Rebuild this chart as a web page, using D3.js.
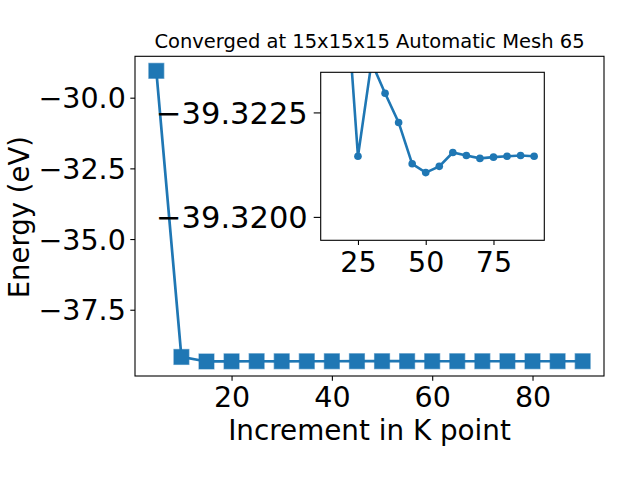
<!DOCTYPE html>
<html><head><meta charset="utf-8">
<script src="https://cdn.jsdelivr.net/npm/d3@7"></script>
<style>
html,body{margin:0;padding:0;background:#fff;}
svg{display:block;font-family:"DejaVu Sans",sans-serif;}
</style></head>
<body>
<svg id="chart" width="640" height="480"></svg>
<script>
// Data
const kpoints = [5,10,15,20,25,30,35,40,45,50,55,60,65,70,75,80,85,90];
const energies = [-29.05,-39.17,-39.330,-39.3260,-39.32145,-39.3237,-39.32296,-39.32226,-39.32127,-39.32106,-39.32121,-39.32154,-39.32147,-39.32140,-39.32143,-39.32145,-39.32147,-39.32145];
const mainXTicks = [20,40,60,80];
const mainYTicks = [-30,-32.5,-35,-37.5];
const insetXTicks = [25,50,75];
const insetYTicks = [-39.3225,-39.3200];
const insetYLim = [-39.31944,-39.32346];
const insetStart = 15;
const titleText = "Converged at 15x15x15 Automatic Mesh 65";
const xLabel = "Increment in K point";
const yLabel = "Energy (eV)";

const color = "#1f77b4";
const svg = d3.select("#chart");
const minus = s => s.replace(/-/g, "\u2212");

// Main axes box
const M = {l:135, r:604, t:56.3, b:376};
const data = kpoints.map((k,i)=>({k, e:energies[i]}));
const xExt = d3.extent(kpoints), xPad = (xExt[1]-xExt[0])*0.05;
const yExt = d3.extent(energies), yPad = (yExt[1]-yExt[0])*0.05;
const x = d3.scaleLinear().domain([xExt[0]-xPad, xExt[1]+xPad]).range([M.l, M.r]);
const y = d3.scaleLinear().domain([yExt[0]-yPad, yExt[1]+yPad]).range([M.b, M.t]);

const tickFont = 28.5;
// main axes
const gx = svg.append("g").attr("transform",`translate(0,${M.b})`)
  .call(d3.axisBottom(x).tickValues(mainXTicks).tickSize(4.7).tickPadding(5).tickFormat(d3.format("d")));
const gy = svg.append("g").attr("transform",`translate(${M.l},0)`)
  .call(d3.axisLeft(y).tickValues(mainYTicks).tickSize(4.7).tickPadding(4.5).tickFormat(d=>minus(d3.format(".1f")(d))));
[gx,gy].forEach(g=>{
  g.select(".domain").remove();
  g.selectAll(".tick line").attr("stroke","#000").attr("stroke-width",1.1);
  g.selectAll(".tick text").attr("font-size",tickFont).attr("fill","#000").attr("font-family","DejaVu Sans");
});
gx.selectAll(".tick text").attr("dy",null).attr("y",30.5);
gy.selectAll(".tick text").attr("dy","0.36em");

// main line + markers
const line = d3.line().x(d=>x(d.k)).y(d=>y(d.e));
svg.append("path").datum(data).attr("d",line).attr("fill","none")
  .attr("stroke",color).attr("stroke-width",2.7);
const sq = 15;
svg.append("g").selectAll("rect").data(data).join("rect")
  .attr("x",d=>x(d.k)-sq/2).attr("y",d=>y(d.e)-sq/2).attr("width",sq).attr("height",sq)
  .attr("fill",color).attr("stroke",color).attr("stroke-opacity",0.55).attr("stroke-width",1.2);

// main spines
svg.append("rect").attr("x",M.l).attr("y",M.t).attr("width",M.r-M.l).attr("height",M.b-M.t)
  .attr("fill","none").attr("stroke","#000").attr("stroke-width",1.1);

// title and labels
svg.append("text").attr("x",(M.l+M.r)/2).attr("y",48).attr("text-anchor","middle")
  .attr("font-size",19.5).text(titleText);
svg.append("text").attr("x",(M.l+M.r)/2).attr("y",440).attr("text-anchor","middle")
  .attr("font-size",27.8).text(xLabel);
svg.append("text").attr("transform",`translate(29,${(M.t+M.b)/2+1}) rotate(-90)`).attr("text-anchor","middle")
  .attr("font-size",27.5).text(yLabel);

// Inset
const I = {l:320.7, r:544.3, t:72.3, b:240.3};
const idata = data.filter(d=>d.k>=insetStart);
const ixExt = d3.extent(idata,d=>d.k), ixPad=(ixExt[1]-ixExt[0])*0.05;
const ix = d3.scaleLinear().domain([ixExt[0]-ixPad, ixExt[1]+ixPad]).range([I.l, I.r]);
const iy = d3.scaleLinear().domain(insetYLim).range([I.b, I.t]);

svg.append("rect").attr("x",I.l).attr("y",I.t).attr("width",I.r-I.l).attr("height",I.b-I.t).attr("fill","#fff");
svg.append("clipPath").attr("id","clipI").append("rect")
  .attr("x",I.l).attr("y",I.t).attr("width",I.r-I.l).attr("height",I.b-I.t);
const ig = svg.append("g").attr("clip-path","url(#clipI)");
const iline = d3.line().x(d=>ix(d.k)).y(d=>iy(d.e));
ig.append("path").datum(idata).attr("d",iline).attr("fill","none").attr("stroke",color).attr("stroke-width",2.6);
ig.selectAll("circle").data(idata).join("circle").attr("cx",d=>ix(d.k)).attr("cy",d=>iy(d.e))
  .attr("r",3.8).attr("fill",color);

const igx = svg.append("g").attr("transform",`translate(0,${I.b})`)
  .call(d3.axisBottom(ix).tickValues(insetXTicks).tickSize(4.7).tickPadding(5).tickFormat(d3.format("d")));
const igy = svg.append("g").attr("transform",`translate(${I.l},0)`)
  .call(d3.axisLeft(iy).tickValues(insetYTicks).tickSize(7).tickPadding(6).tickFormat(d=>minus(d3.format(".4f")(d))));
[igx,igy].forEach(g=>{
  g.select(".domain").remove();
  g.selectAll(".tick line").attr("stroke","#000").attr("stroke-width",1.1);
  g.selectAll(".tick text").attr("fill","#000").attr("font-family","DejaVu Sans");
});
igx.selectAll(".tick text").attr("font-size",tickFont).attr("dy",null).attr("y",32);
igy.selectAll(".tick text").attr("font-size",30.5).attr("dy","0.36em");
svg.append("rect").attr("x",I.l).attr("y",I.t).attr("width",I.r-I.l).attr("height",I.b-I.t)
  .attr("fill","none").attr("stroke","#000").attr("stroke-width",1.1);
</script>
</body></html>
